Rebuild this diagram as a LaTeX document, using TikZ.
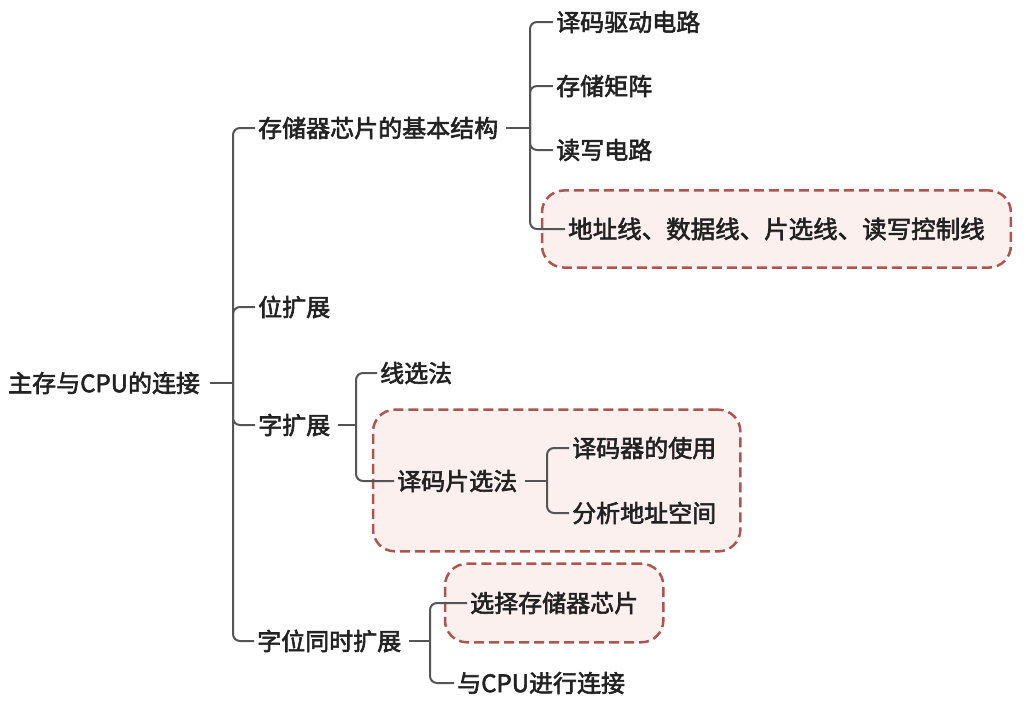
\documentclass[tikz,border=0pt]{standalone}
\usepackage{fontspec}
\setmainfont{Noto Sans CJK SC}[FakeBold=2.5]
\usetikzlibrary{positioning,fit,backgrounds}
\definecolor{linkgray}{HTML}{555555}
\definecolor{boxred}{HTML}{AE5550}
\definecolor{boxfill}{HTML}{FBF0EE}
\definecolor{txtgray}{HTML}{222222}
\tikzset{
  topic/.style={anchor=west,inner sep=3pt,text=txtgray,font=\fontsize{24}{28}\selectfont},
  link/.style={draw=linkgray,line width=2pt,rounded corners=7pt},
  hlbox/.style={draw=boxred,fill=boxfill,line width=2.5pt,dash pattern=on 10pt off 5pt,rounded corners=22pt}
}
\begin{document}
\begin{tikzpicture}[x=1pt,y=-1pt]
  \useasboundingbox (0,0) rectangle (1027,704);
  % root and first level
  \node[topic] (root) at (5,383) {主存与CPU的连接};
  \node[topic] (s1) at (255,128) {存储器芯片的基本结构};
  \node[topic] (s2) at (255,307) {位扩展};
  \node[topic] (s3) at (255,425) {字扩展};
  \node[topic] (s4) at (254,641) {字位同时扩展};
  % chip structure
  \node[topic] (a1) at (553,22) {译码驱动电路};
  \node[topic] (a2) at (553,86) {存储矩阵};
  \node[topic] (a3) at (553,150) {读写电路};
  \node[topic,font=\fontsize{24.5}{29}\selectfont] (a4) at (565,229) {地址线、数据线、片选线、读写控制线};
  % word extension
  \node[topic] (b1) at (377,373) {线选法};
  \node[topic] (b2) at (394,481) {译码片选法};
  \node[topic] (c1) at (569,448) {译码器的使用};
  \node[topic] (c2) at (569,513) {分析地址空间};
  % word and bit extension
  \node[topic] (d1) at (467,603) {选择存储器芯片};
  \node[topic] (d2) at (454,683) {与CPU进行连接};
  % highlight boxes
  \begin{scope}[on background layer]
    \node[hlbox,fit=(a4),inner xsep=23pt,inner ysep=24pt] (box1) {};
    \node[hlbox,fit=(b2)(c1)(c2),inner xsep=21pt,inner ysep=24pt] (box2) {};
    \node[hlbox,fit=(d1),inner xsep=22pt,inner ysep=25pt] (box3) {};
  \end{scope}
  % junctions
  \coordinate (j0) at (233,383);
  \coordinate (j1) at (530,128);
  \coordinate (j3) at (356,425);
  \coordinate (j4) at (547,481);
  \coordinate (j5) at (430,641);
  % connectors
  \draw[link] ([xshift=7pt]root.east) -- (j0);
  \foreach \c in {s1,s2,s3,s4} \draw[link] (j0) |- (\c.west);
  \draw[link] ([xshift=5pt]s1.east) -- (j1);
  \foreach \c in {a1,a2,a3,a4} \draw[link] (j1) |- (\c.west);
  \draw[link] ([xshift=5pt]s3.east) -- (j3);
  \foreach \c in {b1,b2} \draw[link] (j3) |- (\c.west);
  \draw[link] ([xshift=5pt]b2.east) -- (j4);
  \foreach \c in {c1,c2} \draw[link] (j4) |- (\c.west);
  \draw[link] ([xshift=5pt]s4.east) -- (j5);
  \foreach \c in {d1,d2} \draw[link] (j5) |- (\c.west);
\end{tikzpicture}
\end{document}
